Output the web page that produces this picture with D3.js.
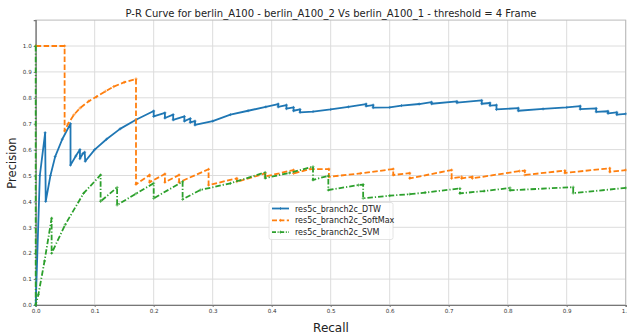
<!DOCTYPE html>
<html>
<head>
<meta charset="utf-8">
<script src="https://cdn.jsdelivr.net/npm/d3@7"></script>
<style>
html,body{margin:0;padding:0;background:#fff;}
svg{display:block;font-family:"DejaVu Sans",sans-serif;}
</style>
</head>
<body>
<svg id="chart" width="627" height="333"></svg>
<script>
const titleText = "P-R Curve for berlin_A100 - berlin_A100_2 Vs berlin_A100_1 - threshold = 4 Frame";
const xLabel = "Recall";
const yLabel = "Precision";
const xTicks = [0.0,0.1,0.2,0.3,0.4,0.5,0.6,0.7,0.8,0.9,1.0];
const yTicks = [0.0,0.1,0.2,0.3,0.4,0.5,0.6,0.7,0.8,0.9,1.0];
const seriesNames = ["res5c_branch2c_DTW","res5c_branch2c_SoftMax","res5c_branch2c_SVM"];

// [recall, precision]
const dtw = [[0,0],[0.007,0.50],[0.016,0.665],[0.017,0.40],[0.025,0.50],[0.033,0.573],[0.045,0.64],[0.059,0.70],[0.059,0.54],[0.068,0.575],[0.075,0.60],[0.075,0.565],[0.08,0.585],[0.083,0.59],[0.084,0.555],[0.1,0.60],[0.12,0.64],[0.143,0.68],[0.17,0.715],[0.2,0.749],[0.2,0.728],[0.219,0.742],[0.219,0.722],[0.233,0.735],[0.233,0.715],[0.252,0.728],[0.252,0.71],[0.262,0.72],[0.262,0.705],[0.27,0.71],[0.27,0.695],[0.3,0.71],[0.33,0.735],[0.36,0.75],[0.39,0.765],[0.411,0.776],[0.411,0.765],[0.425,0.772],[0.425,0.758],[0.437,0.763],[0.437,0.75],[0.448,0.755],[0.448,0.744],[0.47,0.747],[0.5,0.755],[0.53,0.765],[0.56,0.776],[0.56,0.768],[0.572,0.772],[0.572,0.762],[0.6,0.763],[0.62,0.77],[0.65,0.776],[0.671,0.783],[0.671,0.777],[0.714,0.786],[0.714,0.781],[0.756,0.79],[0.756,0.777],[0.77,0.78],[0.77,0.77],[0.781,0.772],[0.781,0.755],[0.818,0.76],[0.818,0.75],[0.86,0.757],[0.9,0.763],[0.923,0.768],[0.923,0.756],[0.95,0.759],[0.95,0.746],[0.97,0.748],[0.97,0.74],[0.985,0.744],[0.985,0.735],[1.0,0.738]];

const softmax = [[0,1],[0.049,1],[0.049,0.672],[0.055,0.70],[0.065,0.735],[0.075,0.76],[0.09,0.787],[0.103,0.804],[0.118,0.825],[0.132,0.843],[0.15,0.86],[0.17,0.873],[0.17,0.466],[0.193,0.502],[0.193,0.474],[0.219,0.506],[0.219,0.474],[0.243,0.502],[0.243,0.474],[0.293,0.524],[0.293,0.463],[0.341,0.489],[0.341,0.476],[0.389,0.508],[0.389,0.496],[0.437,0.521],[0.437,0.508],[0.465,0.525],[0.497,0.525],[0.497,0.495],[0.55,0.508],[0.606,0.525],[0.606,0.502],[0.634,0.509],[0.634,0.489],[0.705,0.521],[0.705,0.489],[0.722,0.495],[0.722,0.489],[0.74,0.495],[0.74,0.489],[0.82,0.517],[0.829,0.519],[0.829,0.502],[0.897,0.519],[0.897,0.51],[0.973,0.528],[0.973,0.514],[1.0,0.521]];

const svm = [[0,1],[0,0],[0.0045,0.04],[0.015,0.17],[0.027,0.335],[0.027,0.2],[0.05,0.31],[0.081,0.431],[0.11,0.502],[0.11,0.40],[0.138,0.454],[0.138,0.386],[0.17,0.43],[0.2,0.47],[0.2,0.412],[0.249,0.476],[0.249,0.408],[0.279,0.444],[0.33,0.47],[0.389,0.512],[0.389,0.49],[0.43,0.51],[0.47,0.534],[0.47,0.483],[0.496,0.499],[0.496,0.444],[0.547,0.463],[0.555,0.465],[0.555,0.412],[0.6,0.422],[0.634,0.428],[0.66,0.434],[0.719,0.45],[0.719,0.431],[0.76,0.44],[0.804,0.452],[0.804,0.443],[0.911,0.455],[0.911,0.432],[1.0,0.452]];

const colors = ["#1f77b4","#ff7f0e","#2ca02c"];
const dashes = [null,"5.5,2.4","5.5,2,1.2,2"];
const series = [dtw, softmax, svm];

const svg = d3.select("#chart");
const x = d3.scaleLinear().domain([0,1.0]).range([35.7, 625.7]);
const y = d3.scaleLinear().domain([0,1.1]).range([305, 20.1]);

// grid
const g = svg.append("g");
g.selectAll("line.vg").data(xTicks).join("line")
  .attr("x1",d=>x(d)).attr("x2",d=>x(d)).attr("y1",y(0)).attr("y2",y(1.1))
  .attr("stroke","#dcdcdc").attr("stroke-width",1);
g.selectAll("line.hg").data(yTicks).join("line")
  .attr("y1",d=>y(d)).attr("y2",d=>y(d)).attr("x1",x(0)).attr("x2",x(1.0))
  .attr("stroke","#dcdcdc").attr("stroke-width",1);

// frame top/right
svg.append("rect").attr("x",x(0)).attr("y",y(1.1)).attr("width",x(1)-x(0)).attr("height",y(0)-y(1.1))
  .attr("fill","none").attr("stroke","#bbb").attr("stroke-width",1);

// axes
const xAxis = d3.axisBottom(x).tickValues(xTicks).tickFormat(d3.format(".1f")).tickSize(2).tickPadding(2);
const yAxis = d3.axisLeft(y).tickValues(yTicks).tickFormat(d3.format(".1f")).tickSize(2).tickPadding(2);
const gx = svg.append("g").attr("transform",`translate(0,${y(0)})`).call(xAxis);
const gy = svg.append("g").attr("transform",`translate(${x(0)},0)`).call(yAxis);
[gx,gy].forEach(a=>{
  a.selectAll("text").attr("font-size","5.6px").attr("fill","#333").attr("font-family","DejaVu Sans");
  a.selectAll("line").attr("stroke","#777");
  a.select(".domain").attr("stroke","#777").attr("stroke-width",1.2);
});

// lines
const line = d3.line().x(d=>x(d[0])).y(d=>y(d[1]));
svg.append("clipPath").attr("id","clip").append("rect")
  .attr("x",x(0)-2).attr("y",y(1.1)).attr("width",x(1)-x(0)+4).attr("height",y(0)-y(1.1)+2);
const lg = svg.append("g").attr("clip-path","url(#clip)");
series.forEach((s,i)=>{
  lg.append("path").datum(s).attr("d",line).attr("fill","none")
    .attr("stroke",colors[i]).attr("stroke-width",1.8)
    .attr("stroke-dasharray",dashes[i]).attr("stroke-linejoin","round");
  lg.selectAll(null).data(s).join("path")
    .attr("d",d=>`M${x(d[0])-1.5},${y(d[1])}h3M${x(d[0])},${y(d[1])-1.5}v3`)
    .attr("stroke",colors[i]).attr("stroke-width",0.7);
});

// legend
const leg = svg.append("g");
leg.append("rect").attr("x",269).attr("y",202.5).attr("width",124).attr("height",37).attr("rx",2)
  .attr("fill","#fff").attr("fill-opacity",0.8).attr("stroke","#ddd").attr("stroke-width",0.8);
seriesNames.forEach((n,i)=>{
  const yy = 208.5 + i*11.8;
  leg.append("line").attr("x1",272).attr("x2",289).attr("y1",yy).attr("y2",yy)
    .attr("stroke",colors[i]).attr("stroke-width",1.8).attr("stroke-dasharray",i===2?"4,1.6,1,1.6":(i===1?"5,2.4":null));
  leg.append("path").attr("d",`M${279},${yy}h3M${280.5},${yy-1.5}v3`).attr("stroke",colors[i]).attr("stroke-width",0.7);
  leg.append("text").attr("x",295).attr("y",yy+3).attr("font-size","8px").attr("fill","#222").text(n);
});

// title & labels
svg.append("text").attr("x",331).attr("y",17).attr("text-anchor","middle")
  .attr("font-size","10px").attr("fill","#222").text(titleText);
svg.append("text").attr("x",331).attr("y",331.5).attr("text-anchor","middle")
  .attr("font-size","12px").attr("fill","#222").text(xLabel);
svg.append("text").attr("transform","translate(16,163) rotate(-90)").attr("text-anchor","middle")
  .attr("font-size","11.5px").attr("fill","#222").text(yLabel);
</script>
</body>
</html>
